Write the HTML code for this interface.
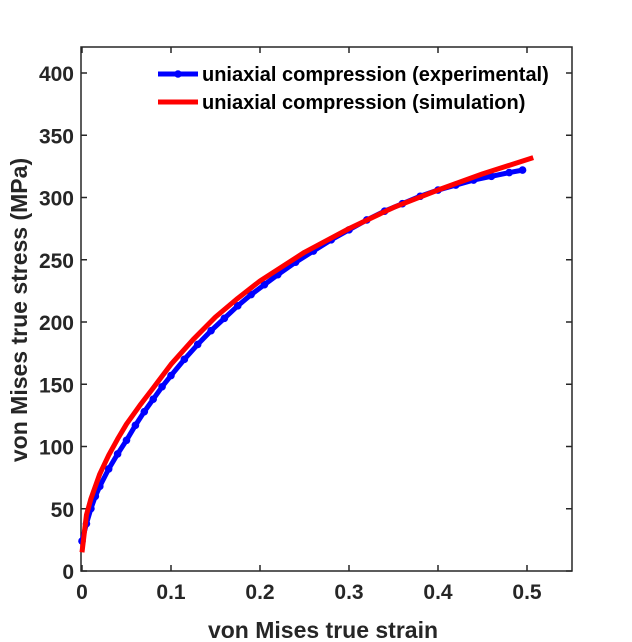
<!DOCTYPE html>
<html><head><meta charset="utf-8"><style>
body{margin:0;background:#fff;}
svg{display:block;font-family:"Liberation Sans",Arial,sans-serif;font-weight:bold;}
</style></head><body>
<svg id="chart" width="632" height="642"></svg>
<script>
const expStrain=[0,0.005,0.01,0.015,0.02,0.03,0.04,0.05,0.06,0.07,0.08,0.09,0.1,0.115,0.13,0.145,0.16,0.175,0.19,0.205,0.22,0.24,0.26,0.28,0.3,0.32,0.34,0.36,0.38,0.4,0.42,0.44,0.46,0.48,0.495];
const expStress=[24,38,50,60,68,82,94,105,117,128,138,148,157,170,182,193,203,213,222,230,238,248,257,266,274,282,289,295,301,306,310,314,317,320,322];
const simStrain=[0,0.005,0.01,0.02,0.03,0.04,0.05,0.065,0.08,0.1,0.125,0.15,0.175,0.2,0.25,0.3,0.35,0.4,0.45,0.507];
const simStress=[15,45,58,78,93,106,118,133,147,166,186,204,219,233,256,275,292,306,319,332];
const xTicks=[0,0.1,0.2,0.3,0.4,0.5];
const yTicks=[0,50,100,150,200,250,300,350,400];
const L=81,R=572,T=47,B=571,X0=82,XS=890,YS=1.245;
const sx=v=>X0+v*XS, sy=v=>B-v*YS;
const svg=document.getElementById('chart');
const NS='http://www.w3.org/2000/svg';
function mk(t,a,p){const e=document.createElementNS(NS,t);for(const k in a)e.setAttribute(k,a[k]);(p||svg).appendChild(e);return e;}
const box=mk('rect',{x:L,y:T,width:R-L,height:B-T,fill:'none',stroke:'#262626','stroke-width':1.5});


xTicks.forEach(v=>{const x=sx(v);
 mk('line',{x1:x,x2:x,y1:B,y2:B-6,stroke:'#262626','stroke-width':1.5});
 mk('line',{x1:x,x2:x,y1:T,y2:T+6,stroke:'#262626','stroke-width':1.5});
 const t=mk('text',{x:x,y:B+28,'text-anchor':'middle','font-size':21,fill:'#262626'});t.textContent=String(v);
 
 });
yTicks.forEach(v=>{const y=sy(v);
 mk('line',{x1:L,x2:L+6,y1:y,y2:y,stroke:'#262626','stroke-width':1.5});
 mk('line',{x1:R,x2:R-6,y1:y,y2:y,stroke:'#262626','stroke-width':1.5});
 const t=mk('text',{x:L-7,y:y+8,'text-anchor':'end','font-size':21,fill:'#262626'});t.textContent=String(v);
 
 });
const xl=mk('text',{x:323,y:638,'text-anchor':'middle','font-size':23,fill:'#262626'});xl.textContent='von Mises true strain';


const yl=mk('text',{x:0,y:0,transform:'translate(27,310) rotate(-90)','text-anchor':'middle','font-size':23,fill:'#262626'});yl.textContent='von Mises true stress (MPa)';


const ep=mk('polyline',{points:expStrain.map((v,i)=>sx(v)+','+sy(expStress[i])).join(' '),fill:'none',stroke:'#0000ff','stroke-width':5});


expStrain.forEach((v,i)=>{const c=mk('circle',{cx:sx(v),cy:sy(expStress[i]),r:3.8,fill:'#0000ff'});
 
 });
const sp=mk('polyline',{points:simStrain.map((v,i)=>sx(v)+','+sy(simStress[i])).join(' '),fill:'none',stroke:'#ff0000','stroke-width':5,'stroke-linejoin':'round'});


const lg=mk('g',{});


mk('line',{x1:158,x2:198,y1:74,y2:74,stroke:'#0000ff','stroke-width':5},lg);
mk('circle',{cx:178,cy:74,r:3.8,fill:'#0000ff'},lg);
const t1=mk('text',{x:202,y:81,'font-size':20,fill:'#000'},lg);t1.textContent='uniaxial compression (experimental)';


mk('line',{x1:158,x2:198,y1:102,y2:102,stroke:'#ff0000','stroke-width':5},lg);
const t2=mk('text',{x:202,y:109,'font-size':20,fill:'#000'},lg);t2.textContent='uniaxial compression (simulation)';


</script>
</body></html>
